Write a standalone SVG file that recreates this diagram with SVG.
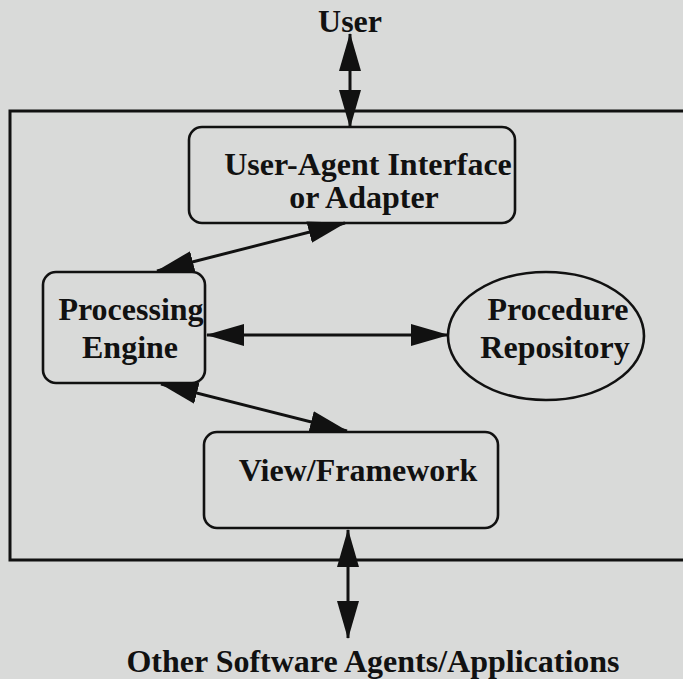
<svg xmlns="http://www.w3.org/2000/svg" width="683" height="679" viewBox="0 0 683 679">
<style>
  .bg { fill: #d9dad9; }
  .frame { fill: none; stroke: #111; stroke-width: 3; }
  .node { fill: none; stroke: #111; stroke-width: 2.6; }
  .lbl { font-family: "Liberation Serif", "Times New Roman", serif; font-weight: bold; font-size: 32px; fill: #111; text-anchor: middle; }
  .conn { stroke: #111; stroke-width: 3; fill: none; marker-start: url(#ah); marker-end: url(#ah); }
</style>
<defs>
  <marker id="ah" markerUnits="userSpaceOnUse" markerWidth="40" markerHeight="24" refX="37" refY="11" orient="auto-start-reverse" viewBox="0 0 40 24">
    <path d="M0,0 L38,11 L0,22 z" fill="#111"/>
  </marker>
</defs>
<rect class="bg" x="0" y="0" width="683" height="679"/>
<path id="frame" class="frame" d="M690,111 H10 V560 H690"/>

<text class="lbl" x="350" y="32">User</text>
<text class="lbl" x="373" y="672">Other Software Agents/Applications</text>

<g id="ua">
  <rect class="node" x="189" y="127" width="326" height="96" rx="13"/>
  <text class="lbl" x="368" y="175">User-Agent Interface</text>
  <text class="lbl" x="364" y="208">or Adapter</text>
</g>
<g id="pe">
  <rect class="node" x="43" y="272" width="162" height="111" rx="13"/>
  <text class="lbl" x="131" y="320">Processing</text>
  <text class="lbl" x="130" y="358">Engine</text>
</g>
<g id="pr">
  <ellipse class="node" cx="546" cy="336" rx="98" ry="64"/>
  <text class="lbl" x="558" y="320">Procedure</text>
  <text class="lbl" x="555" y="358">Repository</text>
</g>
<g id="vf">
  <rect class="node" x="204" y="432" width="294" height="96" rx="13"/>
  <text class="lbl" x="358" y="481">View/Framework</text>
</g>

<g id="connectors">
  <line class="conn" x1="350" y1="34" x2="350" y2="127"/>
  <line class="conn" x1="157" y1="271" x2="345" y2="223"/>
  <line class="conn" x1="207" y1="335" x2="448" y2="335"/>
  <line class="conn" x1="161" y1="384" x2="347" y2="431"/>
  <line class="conn" x1="348" y1="530" x2="348" y2="638"/>
</g>
</svg>
